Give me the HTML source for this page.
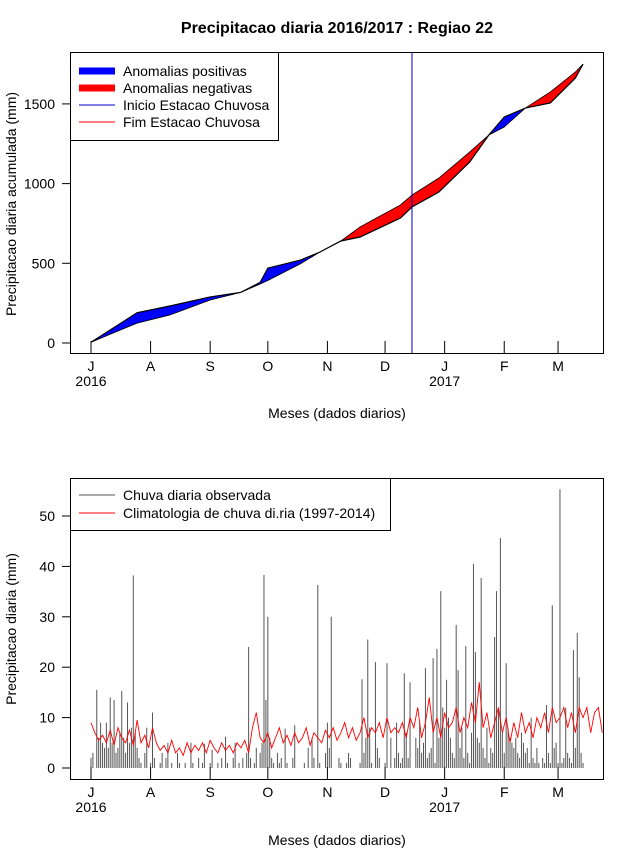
<!DOCTYPE html>
<html><head><meta charset="utf-8"><style>
body{margin:0;background:#fff}
svg text{font-family:"Liberation Sans",sans-serif;fill:#000}
</style></head><body>
<svg id="c" width="640" height="850" xmlns="http://www.w3.org/2000/svg">
<text x="337" y="33" font-size="16" font-weight="bold" text-anchor="middle">Precipitacao diaria 2016/2017 : Regiao 22</text>
<g id="topg"></g>
<g id="botg"></g>
<rect x="70.5" y="52.5" width="533" height="301" fill="none" stroke="#000"/>
<rect x="70.5" y="478.5" width="533" height="301" fill="none" stroke="#000"/>
<text transform="translate(16,204) rotate(-90)" font-size="14" text-anchor="middle">Precipitacao diaria acumulada (mm)</text>
<text x="337" y="418" font-size="14" text-anchor="middle">Meses (dados diarios)</text>
<text transform="translate(16,629) rotate(-90)" font-size="14" text-anchor="middle">Precipitacao diaria (mm)</text>
<text x="337" y="845" font-size="14" text-anchor="middle">Meses (dados diarios)</text>
<g>
<rect x="70.5" y="52.5" width="208" height="88" fill="#fff" stroke="#000"/>
<line x1="79" y1="71" x2="115" y2="71" stroke="#0000ff" stroke-width="7"/>
<text x="123" y="76" font-size="14">Anomalias positivas</text>
<line x1="79" y1="88" x2="115" y2="88" stroke="#ff0000" stroke-width="7"/>
<text x="123" y="93" font-size="14">Anomalias negativas</text>
<line x1="79" y1="105" x2="115" y2="105" stroke="#0000cc" stroke-width="1"/>
<text x="123" y="110" font-size="14">Inicio Estacao Chuvosa</text>
<line x1="79" y1="122" x2="115" y2="122" stroke="#ff0000" stroke-width="1"/>
<text x="123" y="127" font-size="14">Fim Estacao Chuvosa</text>
</g>
<g>
<rect x="70.5" y="478.5" width="320" height="52" fill="#fff" stroke="#000"/>
<line x1="79" y1="495" x2="115" y2="495" stroke="#555" stroke-width="1"/>
<text x="123" y="500" font-size="14">Chuva diaria observada</text>
<line x1="79" y1="513" x2="115" y2="513" stroke="#ff0000" stroke-width="1"/>
<text x="123" y="518" font-size="14">Climatologia de chuva di.ria (1997-2014)</text>
</g>
</svg>
<script>
const months=["J","A","S","O","N","D","J","F","M"];
const monthDays=[0,31,62,92,123,153,184,215,243];
const years=["2016","2017"];
const yearDays=[0,184];
const topTicks=[0,500,1000,1500];
const botTicks=[0,10,20,30,40,50];
const cumDays=[0,24,41,62,78,88,92,109,119,130,140,161,167,181,197,207,215,226,239,252,256];
const cumObs=[5,190,232,289,318,380,470,520,570,640,665,784,853,947,1135,1305,1418,1474,1506,1662,1750];
const cumClim=[5,125,176,270,318,370,392,497,570,640,728,866,928,1035,1198,1305,1355,1474,1575,1700,1750];
const seasonStartDay=167;
const rain=[2,3,0,15.5,6,9,5,4,9,4,
14,5,13.5,3,4,7,15.3,6,3,13,
5,8,38.2,7,4,2,1,0,3,8,
0,1,11,2,0,0,1,3,0,2,
5,0,1,0,0,3,1,0,0,1,
0,0,5,1,0,0,2,0,1,4.8,
0,0,1,3.6,0,0,1,0,2,0,
6.2,1,0,0,2,5,0,1,0,2,
0,3,24,2,0,1,4,0,3,5,
38.3,13.5,30,6,2,1,0,3,1,2,
0,7.8,1,0,0,2,8.5,0,0,0,
0,1,0,4,0,6,2,0,36.3,1,
0,0,3,9,4,30,0,0,0,2,
1,0,0,1,3,2,0,0,0,0,
1,17.6,3,6,25.5,8,1,0,21,4,
2,0,0,1,20.8,0,6,0,2,9,
3,1,2,18.8,7,2,17,0,0,6,
4,9,3,5,19.8,2,3,4,21.8,1,
23.6,6,35.1,12,8,17.5,10,6,3,2,
28.4,19.4,4,8,2,24.2,3,1,7,40.5,
23,6,5,37.7,4,2,8,1,4,3,
26,35.1,12,45.6,7,3,20.8,8,6,5,
4,6,3,2,7,5,3,4,1,10,
2,1,4,1,0,2,1,12.5,3,1,
32.3,4,5,1,55.3,1,2,12,3,2,
1,23.4,4,26.8,18,3,1];
const climStep=2;
const clim=[9,7,5.5,6.5,5,7.5,4.5,8,6,5,7.5,4.5,9.5,5,6.5,4,8,5,3.5,4.5,
3,5.5,3,4,2.5,5,3,4.5,3.5,5,3,5.5,4,3,5,3.5,4.5,3,5,4,
5.5,3,8,11,6,5,7,4,6,8,5,6.5,4.5,7,5,6,8,4.5,7,6,
5,7.5,6,8,5.5,7,9,6,8,5.5,7,10,6,8,7,9,6,10,7,8,
7,9,6,10,8,12,6,9,14,7,10,6,11,8,9,12,7,10,8,13,
9,17,8,11,6,9,12,7,10,5,9,6,11,7,9,6,10,8,11,7,
12,9,10,12,8,11,7,12,10,12,7,11,12,7];

const NS="http://www.w3.org/2000/svg";
const X=d=>91+d*1.922;
const YT=v=>343-v*0.1594;
const YB=v=>768-v*5.04;
function mk(p,tag,at){const e=document.createElementNS(NS,tag);for(const k in at)e.setAttribute(k,at[k]);p.appendChild(e);return e;}
const gTop=document.getElementById('topg'),gBot=document.getElementById('botg');

for(let i=0;i<cumDays.length-1;i++){
  const d0=cumDays[i],d1=cumDays[i+1];
  const a0=cumObs[i]-cumClim[i],a1=cumObs[i+1]-cumClim[i+1];
  const pieces=[];
  if(a0*a1<0){const t=a0/(a0-a1);const dm=d0+t*(d1-d0);const vm=cumClim[i]+t*(cumClim[i+1]-cumClim[i]);
    pieces.push([[d0,cumObs[i],cumClim[i]],[dm,vm,vm],a0]);pieces.push([[dm,vm,vm],[d1,cumObs[i+1],cumClim[i+1]],a1]);}
  else pieces.push([[d0,cumObs[i],cumClim[i]],[d1,cumObs[i+1],cumClim[i+1]],a0+a1]);
  for(const p of pieces){
    if(p[2]===0)continue;
    const pts=[[X(p[0][0]),YT(p[0][1])],[X(p[1][0]),YT(p[1][1])],[X(p[1][0]),YT(p[1][2])],[X(p[0][0]),YT(p[0][2])]];
    const col=p[2]>0?'#0000ff':'#ff0000';
    const poly=mk(gTop,'polygon',{points:pts.map(q=>q.join(',')).join(' '),fill:col,stroke:col,'stroke-width':0.4});
    
    
  }
}
const lo=mk(gTop,'polyline',{points:cumDays.map((d,i)=>X(d)+','+YT(cumObs[i])).join(' '),fill:'none',stroke:'#000','stroke-width':1.2});


const lc=mk(gTop,'polyline',{points:cumDays.map((d,i)=>X(d)+','+YT(cumClim[i])).join(' '),fill:'none',stroke:'#000','stroke-width':0.8});


const vl=mk(gTop,'line',{x1:X(seasonStartDay),x2:X(seasonStartDay),y1:52,y2:353,stroke:'#0000cc','stroke-width':1});



rain.forEach((v,i)=>{if(v<=0)return;
  const b=mk(gBot,'line',{x1:X(i),x2:X(i),y1:YB(0),y2:YB(v),stroke:'#555','stroke-width':1});
  
  
});
const cl=mk(gBot,'polyline',{points:clim.map((v,i)=>X(i*climStep)+','+YB(v)).join(' '),fill:'none',stroke:'#ff0000','stroke-width':0.9});



function xAxis(g,yTick,yFrame,lab1,lab2){
  months.forEach((m,i)=>{mk(g,'line',{x1:X(monthDays[i]),x2:X(monthDays[i]),y1:yTick,y2:yFrame,stroke:'#000'});
    const t=mk(g,'text',{x:X(monthDays[i]),y:lab1,'font-size':14,'text-anchor':'middle'});t.textContent=m;
    
    });
  years.forEach((yv,i)=>{const t=mk(g,'text',{x:X(yearDays[i]),y:lab2,'font-size':14,'text-anchor':'middle'});t.textContent=yv;
    
    });
}
function yAxis(g,ticks,Y){
  ticks.forEach(v=>{mk(g,'line',{x1:62,x2:70,y1:Y(v),y2:Y(v),stroke:'#000'});
    const t=mk(g,'text',{x:55,y:Y(v)+5,'font-size':14,'text-anchor':'end'});t.textContent=v;
    
    });
}
xAxis(gTop,341,353,371,386);
yAxis(gTop,topTicks,YT);
xAxis(gBot,767,779,797,812);
yAxis(gBot,botTicks,YB);
</script>
</body></html>
